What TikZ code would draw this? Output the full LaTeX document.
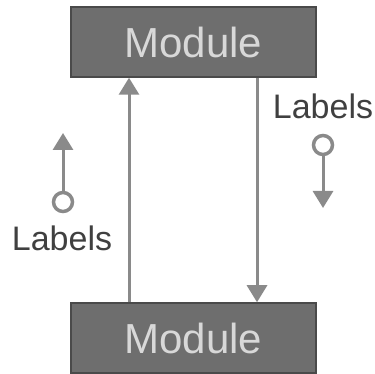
\documentclass[tikz,border=0pt]{standalone}
\usepackage{fontspec}
\setmainfont{Liberation Sans}
\usetikzlibrary{arrows.meta}
\definecolor{boxfill}{HTML}{6E6E6E}
\definecolor{boxline}{HTML}{4A4A4A}
\definecolor{wire}{HTML}{8A8A8A}
\definecolor{modtext}{HTML}{D8D8D8}
\tikzset{
  module/.style={draw=boxline, line width=1.5pt, fill=boxfill, minimum width=245pt,
    minimum height=70pt, inner sep=0pt, text=modtext, font=\fontsize{42}{42}\selectfont},
  link/.style={draw=wire, line width=3pt, -{Triangle[length=17pt,width=20pt]}},
  port/.style={circle, draw=wire, line width=3.5pt, fill=white, minimum size=19pt, inner sep=0pt},
  legendtext/.style={text=black!75, font=\fontsize{34}{34}\selectfont, inner sep=0pt}
}
\begin{document}
\begin{tikzpicture}[x=1pt,y=1pt]
  \useasboundingbox (0,0) rectangle (374,374);
  % modules
  \node[module] (top) at (193.5,332) {Module};
  \node[module] (bot) at (193.5,36) {Module};
  % connectors between the modules
  \coordinate (upx) at (129,0);
  \coordinate (downx) at (257,0);
  \draw[link] (bot.north -| upx) -- (top.south -| upx);
  \draw[link] (top.south -| downx) -- (bot.north -| downx);
  % legend, left
  \node[port] (lp) at (63,172) {};
  \coordinate (lt) at (63,241);
  \draw[link] (lp) -- (lt);
  \node[legendtext] (ll) at (62,136) {Labels};
  % legend, right
  \node[legendtext] (rl) at (323,268) {Labels};
  \node[port] (rp) at (323,229) {};
  \coordinate (rt) at (323,166);
  \draw[link] (rp) -- (rt);
\end{tikzpicture}
\end{document}
